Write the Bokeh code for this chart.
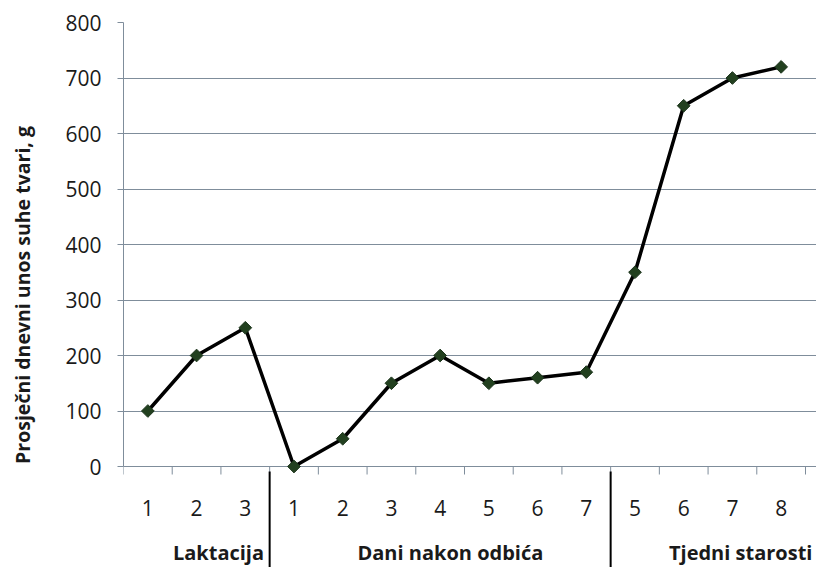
import math
from bokeh.plotting import figure
from bokeh.models import FixedTicker, Range1d
from bokeh.core.properties import value
from bokeh.embed import file_html
from bokeh.resources import INLINE

sub_labels = ["1", "2", "3", "1", "2", "3", "4", "5", "6", "7", "5", "6", "7", "8"]
values = [100, 200, 250, 0, 50, 150, 200, 150, 160, 170, 350, 650, 700, 720]
groups = ["Laktacija", "Dani nakon odbića", "Tjedni starosti"]
group_sizes = [3, 7, 4]
y_ticks = list(range(0, 801, 100))
y_title = "Prosječni dnevni unos suhe tvari, g"

n = len(values)
xs = [i + 0.5 for i in range(n)]

# group boundaries and label anchors
bounds = [0]
for s in group_sizes:
    bounds.append(bounds[-1] + s)
group_centers = [(bounds[i] + bounds[i + 1]) / 2 for i in range(len(group_sizes))]
label_shift = [0.45, 0.21, 0.67]
group_label_x = [c + s for c, s in zip(group_centers, label_shift)]

FONT = "Open Sans"
GRID = "#7f8d9b"
TXT = "#1a1a1a"

# plot area: value axis 0..800 over 444 px, frame extended below / right for labels
Y_MAX = y_ticks[-1]
PLOT_H = 444
BELOW_PX = 101
PLOT_W = 682
RIGHT_PX = 11
u = Y_MAX / PLOT_H          # y data units per pixel
y_low = -BELOW_PX * u
x_high = n + RIGHT_PX * n / PLOT_W

p = figure(width=816, height=567, output_backend="svg", toolbar_location=None,
           x_range=Range1d(0, x_high), y_range=Range1d(y_low, Y_MAX),
           min_border_left=123, min_border_right=0, min_border_top=22, min_border_bottom=0)
p.frame_width = PLOT_W + RIGHT_PX
p.frame_height = PLOT_H + BELOW_PX
p.outline_line_color = None
p.background_fill_color = "white"
p.border_fill_color = "white"
p.xaxis.visible = False
p.xgrid.grid_line_color = None

# y axis
ya = p.yaxis[0]
ya.ticker = FixedTicker(ticks=y_ticks, minor_ticks=[])
ya.bounds = (0, Y_MAX)
ya.axis_line_color = GRID
ya.major_tick_line_color = GRID
ya.major_tick_out = 6
ya.major_tick_in = 0
ya.minor_tick_line_color = None
ya.major_label_text_font = FONT
ya.major_label_text_font_size = "21px"
ya.major_label_text_color = TXT
ya.major_label_standoff = 16
ya.axis_label = y_title
ya.axis_label_text_font = FONT
ya.axis_label_text_font_style = "bold"
ya.axis_label_text_font_size = "19.5px"
ya.axis_label_text_color = TXT
ya.axis_label_standoff = 26

p.ygrid.ticker = FixedTicker(ticks=y_ticks)
p.ygrid.bounds = (0, n)
p.ygrid.grid_line_color = GRID
p.ygrid.grid_line_width = 1

# category axis line and boundary ticks
tick_pos = list(range(0, n + 1))
p.segment(x0=[0], y0=[0], x1=[n], y1=[0], line_color=GRID, line_width=1)
p.segment(x0=tick_pos, y0=[0] * len(tick_pos), x1=tick_pos, y1=[-8 * u] * len(tick_pos),
          line_color=GRID, line_width=1)

# category labels
p.text(x=xs, y=[-41 * u] * n, text=sub_labels, text_align="center",
       text_baseline="alphabetic", text_font=value(FONT),
       text_font_size=value("21px"), text_color=TXT)
p.text(x=group_label_x, y=[-86 * u] * len(groups), text=groups, text_align="center",
       text_baseline="alphabetic", text_font=value(FONT), text_font_style="bold",
       text_font_size=value("20px"), text_color=TXT)

# group separators
sep = bounds[1:-1]
p.segment(x0=sep, y0=[-5 * u] * len(sep), x1=sep, y1=[y_low] * len(sep),
          line_color="black", line_width=2)

# data
p.line(xs, values, line_color="black", line_width=3.5)
p.scatter(xs, values, marker="square", size=9, angle=math.pi / 4,
          fill_color="#22401f", line_color="#1a321a", line_width=1)

open("out.html", "w").write(file_html(p, INLINE))
